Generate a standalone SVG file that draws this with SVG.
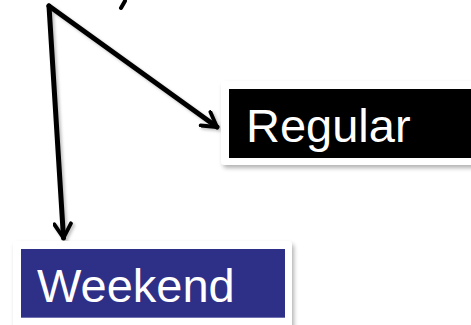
<svg xmlns="http://www.w3.org/2000/svg" width="471" height="325" viewBox="0 0 471 325">
<style>
.frame{fill:#ffffff;filter:url(#sh)}
.lbl{font-family:"Liberation Sans",Arial,sans-serif;font-size:47px;fill:#ffffff}
.conn{fill:none;stroke:#000000;stroke-width:5;stroke-linecap:round;stroke-linejoin:round}
</style>
<defs>
<filter id="sh" x="-10%" y="-10%" width="130%" height="140%">
<feDropShadow dx="2" dy="3" stdDeviation="2" flood-color="#000000" flood-opacity="0.3"/>
</filter>
<filter id="lsh" x="-10%" y="-10%" width="130%" height="130%">
<feDropShadow dx="2" dy="2" stdDeviation="1.5" flood-color="#000000" flood-opacity="0.25"/>
</filter>
<marker id="arr" viewBox="0 0 12 12" refX="10" refY="6" markerWidth="4" markerHeight="4" orient="auto" markerUnits="strokeWidth">
<path d="M1.5,1 L10,6 L1.5,11" fill="none" stroke="#000000" stroke-width="2.3" stroke-linecap="round" stroke-linejoin="round"/>
</marker>
</defs>
<rect x="0" y="0" width="471" height="325" fill="#ffffff"/>
<path d="M121,8 L125,1" stroke="#000000" stroke-width="4" stroke-linecap="round"/>
<g id="connectors" filter="url(#lsh)">
<path class="conn" d="M49,6 L63.5,238" marker-end="url(#arr)"/>
<path class="conn" d="M49,6 L217,127" marker-end="url(#arr)"/>
</g>
<g id="regular">
<rect class="frame" x="221" y="81" width="260" height="84" rx="4"/>
<rect x="229" y="89" width="250" height="69" fill="#000000"/>
<text class="lbl" x="246" y="142">Regular</text>
</g>
<g id="weekend">
<rect class="frame" x="13" y="241" width="279" height="90" rx="4"/>
<rect x="21" y="249" width="264" height="69" fill="#2E3087"/>
<rect x="21" y="317" width="264" height="1" fill="#6E70B0"/>
<text class="lbl" x="37" y="302">Weekend</text>
</g>
</svg>
